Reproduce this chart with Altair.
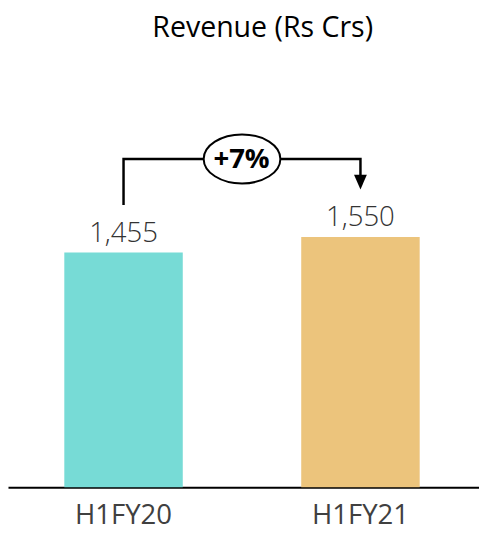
import altair as alt
import pandas as pd

# ---- data ----
categories = ["H1FY20", "H1FY21"]
revenue = [1455, 1550]
value_labels = ["1,455", "1,550"]
bar_colors = ["#77DBD6", "#ECC47C"]
title_text = "Revenue (Rs Crs)"
growth_label = "+7%"

# growth bracket (in revenue units)
bracket_periods = ["H1FY20", "H1FY20", "H1FY21", "H1FY21"]
bracket_levels = [1748, 2034, 2034, 1891]
bracket_order = [0, 1, 2, 3]
arrow_period = ["H1FY21"]
arrow_level = [1891]
badge_period = ["H1FY20"]
badge_level = [2034]

FONT = "Open Sans"
TEXT_COLOR = "#404040"

bars_df = pd.DataFrame({"period": categories, "revenue": revenue,
                        "label": value_labels, "color": bar_colors})
bracket_df = pd.DataFrame({"period": bracket_periods, "level": bracket_levels,
                           "step": bracket_order})
arrow_df = pd.DataFrame({"period": arrow_period, "level": arrow_level})
badge_df = pd.DataFrame({"period": badge_period, "level": badge_level,
                         "text": [growth_label]})
title_df = pd.DataFrame({"t": [title_text]})

x_enc = alt.X(
    "period:N",
    scale=alt.Scale(domain=categories, paddingInner=0.5, paddingOuter=0.244, align=0.487),
    axis=alt.Axis(title=None, labelAngle=0, ticks=False, tickSize=0,
                  domainColor="#000000", domainWidth=2, grid=False,
                  labelFont=FONT, labelFontSize=28, labelColor=TEXT_COLOR,
                  labelBaseline="alphabetic", labelPadding=37),
)
y_scale = alt.Scale(domain=[0, 2625], nice=False, zero=True)

bars = alt.Chart(bars_df).mark_bar().encode(
    x=x_enc,
    y=alt.Y("revenue:Q", scale=y_scale, axis=None),
    color=alt.Color("color:N", scale=None),
)

labels = alt.Chart(bars_df).mark_text(
    font=FONT, fontSize=28, fontWeight=300, color="#333333",
    baseline="alphabetic", align="center", dy=-11,
).encode(
    x=alt.X("period:N"),
    y=alt.Y("revenue:Q"),
    text="label:N",
)

bracket = alt.Chart(bracket_df).mark_line(
    color="#000000", strokeWidth=2.5, strokeJoin="miter", strokeCap="butt",
).encode(
    x=alt.X("period:N"),
    y=alt.Y("level:Q"),
    order=alt.Order("step:Q"),
)

arrow = alt.Chart(arrow_df).mark_point(
    shape="M-0.87,-1L0.87,-1L0,1Z", size=225, filled=True,
    color="#000000", opacity=1,
).encode(
    x=alt.X("period:N"),
    y=alt.Y("level:Q"),
)

ellipse_path = ("M1,0C1,0.3535 0.5523,0.64 0,0.64C-0.5523,0.64 -1,0.3535 -1,0"
                "C-1,-0.3535 -0.5523,-0.64 0,-0.64C0.5523,-0.64 1,-0.3535 1,0Z")
badge = alt.Chart(badge_df).mark_point(
    shape=ellipse_path, size=6084, filled=True, fill="#FFFFFF",
    stroke="#000000", strokeWidth=2, opacity=1, xOffset=120.5,
).encode(
    x=alt.X("period:N"),
    y=alt.Y("level:Q"),
)

badge_text = alt.Chart(badge_df).mark_text(
    font=FONT, fontSize=28, fontWeight="bold", color="#000000",
    baseline="alphabetic", align="center", dy=9, xOffset=120,
).encode(
    x=alt.X("period:N"),
    y=alt.Y("level:Q"),
    text="text:N",
)

title = alt.Chart(title_df).mark_text(
    font=FONT, fontSize=29, color="#000000",
    baseline="alphabetic", align="center",
).encode(
    x=alt.value(259),
    y=alt.value(-27),
    text="t:N",
)

chart = alt.layer(
    bars, bracket, badge, badge_text, arrow, labels, title
).properties(
    width=479, height=431,
    autosize=alt.AutoSizeParams(type="none"),
    padding={"left": 0, "top": 52, "right": 0, "bottom": 43},
).configure_view(stroke=None)

chart.save("out.html", embed_options={"renderer": "svg", "actions": False})
